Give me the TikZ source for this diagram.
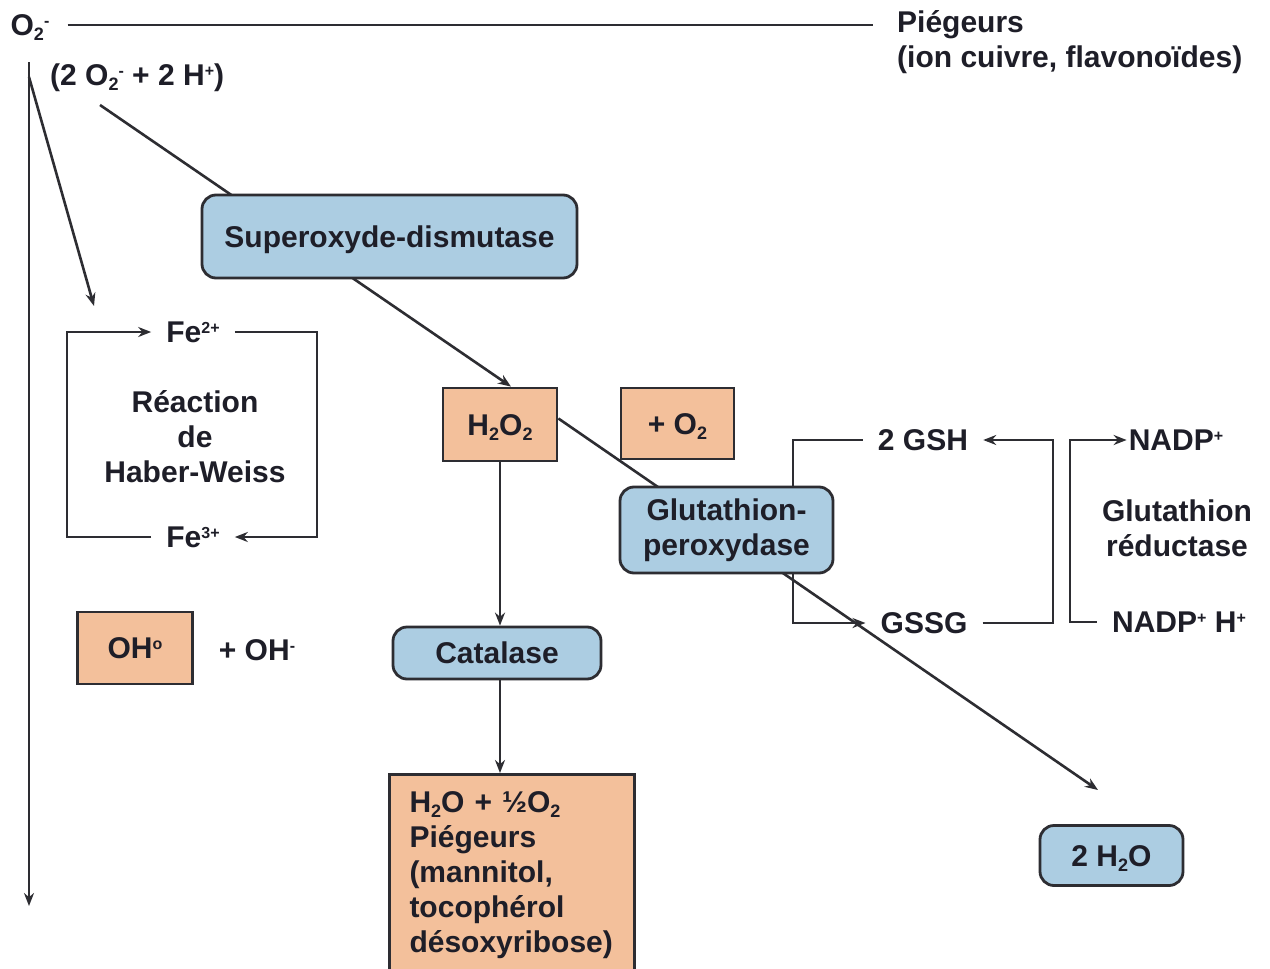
\documentclass[tikz,border=0pt]{standalone}
\usepackage{fontspec}
\setmainfont{Liberation Sans}
\usetikzlibrary{arrows.meta}
\definecolor{ink}{RGB}{30,30,40}
\definecolor{edgec}{RGB}{45,45,50}
\definecolor{bluefill}{RGB}{172,205,226}
\definecolor{orangefill}{RGB}{243,192,155}
\newcommand\sbs[1]{\raisebox{-5pt}{\fontsize{18}{18}\selectfont #1}}
\newcommand\sps[1]{\raisebox{9pt}{\fontsize{16}{16}\selectfont #1}}
\pgfdeclarelayer{back}
\pgfdeclarelayer{bg}
\pgfsetlayers{back,bg,main}
\begin{document}
\begin{tikzpicture}[x=1pt,y=-1pt,
  every node/.style={font=\fontsize{30}{35}\selectfont\bfseries, text=ink},
  onel/.style={text height=21.5pt, text depth=0pt},
  enzyme/.style={draw=edgec, line width=2.8pt, fill=bluefill, rounded corners=14pt, inner sep=0pt},
  species/.style={draw=edgec, line width=2.8pt, fill=orangefill, inner sep=0pt},
  lbl/.style={inner sep=0pt, inner xsep=15pt, onel},
  conn/.style={draw=edgec, line width=2.6pt},
  arr/.style={conn, -{Stealth[length=13pt,width=10pt]}}
]
\useasboundingbox (0,0) rectangle (1270,969);
\begin{pgfonlayer}{back}
\fill[white] (0,0) rectangle (1270,969);
\end{pgfonlayer}
\clip (0,0) rectangle (1270,969);

% top labels
\node[lbl, inner xsep=18pt] (o2m) at (30,25) {O\sbs{2}\sps{-}};
\node[anchor=west, align=left, inner sep=0pt, inner xsep=24pt] (pieg) at (873,42) {Piégeurs\\(ion cuivre, flavonoïdes)};
\node[lbl, anchor=west, inner xsep=0pt] (pair) at (50,75) {(2 O\sbs{2}\sps{-} + 2 H\sps{+})};

% boxes
\node[enzyme, onel, minimum width=375pt, minimum height=83pt] (sod) at (389.5,236.5) {Superoxyde-dismutase};
\node[species, onel, minimum width=114pt, minimum height=73pt] (h2o2) at (500,424.5) {H\sbs{2}O\sbs{2}};
\node[species, onel, minimum width=113pt, minimum height=71pt] (o2) at (677.5,423.5) {+ O\sbs{2}};
\node[enzyme, minimum width=213pt, minimum height=86pt, align=center] (gpx) at (726.5,530) {Glutathion-\\peroxydase};
\node[enzyme, onel, minimum width=208pt, minimum height=52pt] (cat) at (497,653) {Catalase};
\node[species, anchor=north, text width=205pt, align=left, inner xsep=20pt, inner ysep=17pt] (res) at (512,773) {H\sbs{2}O + ½O\sbs{2}\\Piégeurs\\(mannitol,\\tocophérol\\désoxyribose)};
\node[species, onel, minimum width=115pt, minimum height=72pt] (oh) at (135,648) {OH\sps{o}};
\node[lbl] (ohm) at (257,650) {+ OH\sps{-}};
\node[enzyme, onel, minimum width=143pt, minimum height=60pt] (w2) at (1111.5,855.5) {2 H\sbs{2}O};

% Haber-Weiss
\node[lbl] (fe2) at (193,332) {Fe\sps{2+}};
\node[lbl] (fe3) at (193,537) {Fe\sps{3+}};
\node[align=center, inner sep=0pt] (hw) at (195,437) {Réaction\\de\\Haber-Weiss};
\coordinate (hwL) at (67,435);
\coordinate (hwR) at (317,435);

% glutathion cycle
\node[lbl] (gsh) at (923,440) {2 GSH};
\node[lbl] (gssg) at (924,623) {GSSG};
\node[lbl, inner xsep=2pt] (nadp) at (1176,440) {NADP\sps{+}};
\node[lbl] (nadph) at (1179,622) {NADP\sps{+} H\sps{+}};
\node[align=center, inner sep=0pt] (gred) at (1177,528) {Glutathion\\réductase};
\coordinate (gl) at (793,530);
\coordinate (grr) at (1053,530);
\coordinate (nr) at (1070,530);

% free coordinates
\coordinate (vt) at (29,62);
\coordinate (vb) at (29,906);
\coordinate (dt) at (29,77);
\coordinate (feA) at (94,306);
\coordinate (s1) at (100,105);
\coordinate (wt) at (1098,790);

\begin{pgfonlayer}{bg}
\draw[conn] (o2m.east) -- (o2m.east -| pieg.west);
\draw[arr] (vt) -- (vb);
\draw[arr] (dt) -- (feA);
\draw[arr] (s1) -- ([xshift=11pt]h2o2.north);
\draw[arr] ([yshift=6pt]h2o2.east) -- (wt);
\draw[arr] (h2o2.south) -- (h2o2.south |- cat.north);
\draw[arr] (cat.south -| h2o2.south) -- (h2o2.south |- res.north);
\draw[arr] (fe3.west) -| (hwL) |- (fe2.west);
\draw[arr] (fe2.east) -| (hwR) |- (fe3.east);
\draw[conn] (gpx.north -| gl) |- (gsh.west);
\draw[arr] (gpx.south -| gl) |- (gssg.west);
\draw[arr] (gssg.east) -| (grr) |- (gsh.east);
\draw[arr] (nadph.west) -| (nr) |- (nadp.west);
\end{pgfonlayer}
\end{tikzpicture}
\end{document}
